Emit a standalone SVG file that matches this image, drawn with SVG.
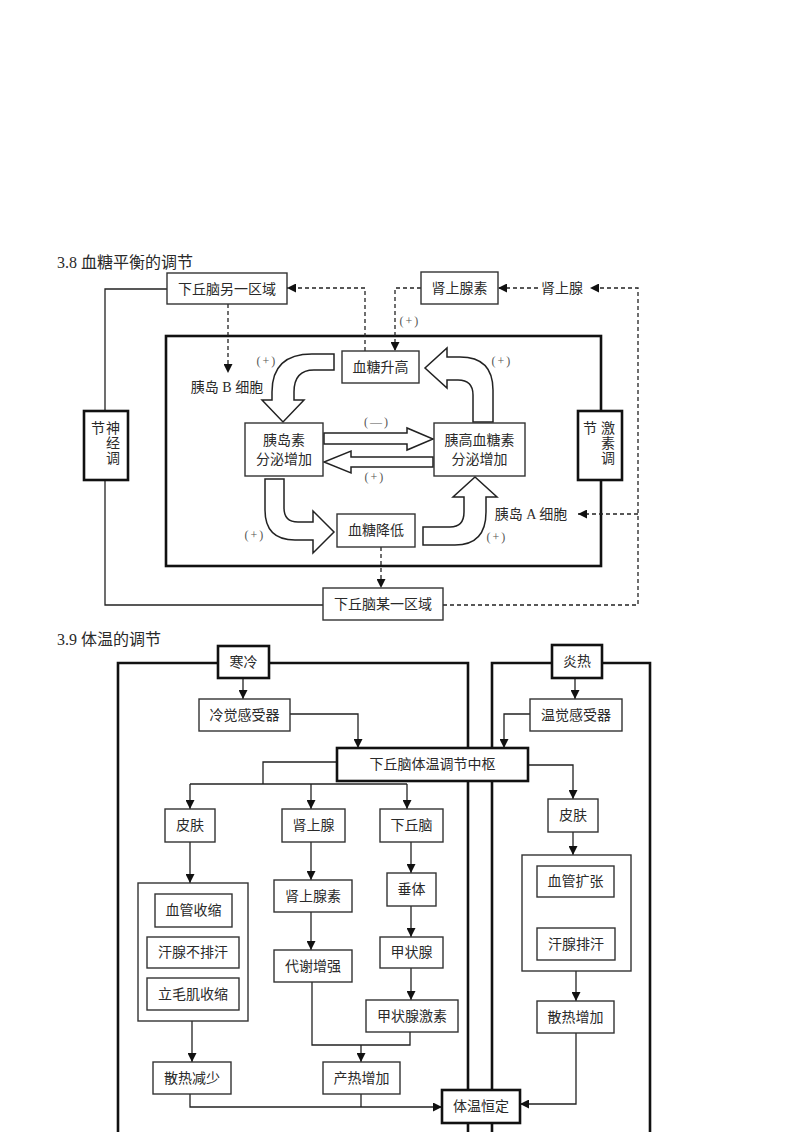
<svg xmlns="http://www.w3.org/2000/svg" width="800" height="1132" viewBox="0 0 800 1132">
<defs>
<marker id="arr" viewBox="0 0 10 10" refX="10" refY="5" markerWidth="9" markerHeight="9" markerUnits="userSpaceOnUse" orient="auto"><path d="M0,0 L10,5 L0,10 z" fill="#111"/></marker>
<style>
text{font-family:"Liberation Serif","Noto Sans CJK SC",serif;fill:#2a2a2a;font-size:14px}
.t{font-size:16px}
.c{text-anchor:middle}
.lb{font-size:12px;fill:#555;letter-spacing:2px}
.box{fill:#fff;stroke:#333;stroke-width:1.4}
.tb{fill:#fff;stroke:#111;stroke-width:2.6}
.frame{fill:none;stroke:#111;stroke-width:2.6}
.ln{fill:none;stroke:#222;stroke-width:1.3}
.da{fill:none;stroke:#222;stroke-width:1.3;stroke-dasharray:4,3}
.ba{fill:#fff;stroke:#222;stroke-width:1.5}
</style>
</defs>
<rect width="800" height="1132" fill="#fff"/>

<!-- 3.8 -->
<text x="57" y="268" class="t">3.8 血糖平衡的调节</text>
<rect id="frame38" x="166" y="336" width="435" height="230" class="frame"/>

<g id="connectors38">
<path class="ln" d="M167,289 H105 V411"/>
<path class="ln" d="M105,480 V605 H323"/>
<path class="da" d="M228,304 V373" marker-end="url(#arr)"/>
<path class="da" d="M365,351 V288 H287" marker-end="url(#arr)"/>
<path class="da" d="M421,288 H395 V351" marker-end="url(#arr)"/>
<path class="da" d="M538,288 H498" marker-end="url(#arr)"/>
<path class="da" d="M443,605 H638 V288 H590" marker-end="url(#arr)"/>
<path class="da" d="M638,514 H578" marker-end="url(#arr)"/>
<path class="da" d="M381,547 V588" marker-end="url(#arr)"/>
<path class="ba" d="M334,354 L312,354 Q272,354 272,392 L272,400 L262,400 L283,422 L304,400 L294,400 L294,392 Q294,370 314,370 L334,370 Z"/>
<path class="ba" d="M473,422 L473,395 Q473,380 458,380 L447,380 L447,388 L425,368 L447,348 L447,357 L460,357 Q493,357 493,390 L493,422 Z"/>
<path class="ba" d="M265,479 L284,479 L284,508 Q284,522 298,522 L313,522 L313,511 L334,532 L313,553 L313,540 L295,540 Q265,540 265,510 Z"/>
<path class="ba" d="M423,527 L450,527 Q464,527 464,512 L464,497 L453,497 L475,477 L497,497 L486,497 L486,512 Q486,545 455,545 L423,545 Z"/>
<path class="ba" d="M324,433 L407,433 L407,428 L433,439 L407,450 L407,444 L324,444 Z"/>
<path class="ba" d="M433,457 L351,457 L351,451 L324,462 L351,473 L351,467 L433,467 Z"/>
</g>

<g id="labels38">
<text x="267" y="365" class="lb c">(+)</text>
<text x="502" y="365" class="lb c">(+)</text>
<text x="255" y="539" class="lb c">(+)</text>
<text x="497" y="541" class="lb c">(+)</text>
<text x="410" y="325" class="lb c">(+)</text>
<text x="377" y="426" class="lb c">(—)</text>
<text x="375" y="481" class="lb c">(+)</text>
<text x="227" y="392" class="c">胰岛 B 细胞</text>
<text x="531" y="519" class="c">胰岛 A 细胞</text>
<text x="562" y="293" class="c">肾上腺</text>
</g>

<g id="n_hyp_other"><rect x="167" y="273" width="120" height="31" class="box"/><text x="227" y="294" class="c">下丘脑另一区域</text></g>
<g id="n_adrenaline"><rect x="421" y="272" width="77" height="32" class="box"/><text x="459.5" y="293" class="c">肾上腺素</text></g>
<g id="n_bg_up"><rect x="342" y="351" width="77" height="32" class="box"/><text x="380.5" y="372" class="c">血糖升高</text></g>
<g id="n_insulin"><rect x="245" y="423" width="78" height="53" class="box"/><text x="284" y="445" class="c">胰岛素</text><text x="284" y="464" class="c">分泌增加</text></g>
<g id="n_glucagon"><rect x="434" y="423" width="91" height="53" class="box"/><text x="479.5" y="445" class="c">胰高血糖素</text><text x="479.5" y="464" class="c">分泌增加</text></g>
<g id="n_bg_down"><rect x="337" y="514" width="78" height="33" class="box"/><text x="376" y="535" class="c">血糖降低</text></g>
<g id="n_hyp_some"><rect x="323" y="588" width="120" height="32" class="box"/><text x="383" y="609" class="c">下丘脑某一区域</text></g>
<g id="n_neural"><rect x="84" y="411" width="44" height="69" class="tb"/><text x="98" y="433" class="c">节</text><text x="113" y="433" class="c">神</text><text x="113" y="448" class="c">经</text><text x="113" y="463" class="c">调</text></g>
<g id="n_hormonal"><rect x="578" y="411" width="44" height="69" class="tb"/><text x="590" y="433" class="c">节</text><text x="608" y="433" class="c">激</text><text x="608" y="448" class="c">素</text><text x="608" y="463" class="c">调</text></g>

<!-- 3.9 -->
<text x="57" y="645" class="t">3.9 体温的调节</text>
<path class="frame" d="M118,1140 V663 H468 V1140"/>
<path class="frame" d="M492,1140 V663 H650 V1140"/>

<g id="connectors39">
<path class="ln" d="M243,678 V699" marker-end="url(#arr)"/>
<path class="ln" d="M575,678 V699" marker-end="url(#arr)"/>
<path class="ln" d="M290,714 H358 V748" marker-end="url(#arr)"/>
<path class="ln" d="M530,714 H504 V748" marker-end="url(#arr)"/>
<path class="ln" d="M528,765 H573 V799" marker-end="url(#arr)"/>
<path class="ln" d="M337,762 H263 V784"/>
<path class="ln" d="M190,784 H407"/>
<path class="ln" d="M190,784 V809" marker-end="url(#arr)"/>
<path class="ln" d="M311,784 V809" marker-end="url(#arr)"/>
<path class="ln" d="M407,784 V809" marker-end="url(#arr)"/>
<path class="ln" d="M190,842 V883" marker-end="url(#arr)"/>
<path class="ln" d="M311,842 V880" marker-end="url(#arr)"/>
<path class="ln" d="M311,912 V950" marker-end="url(#arr)"/>
<path class="ln" d="M411,842 V873" marker-end="url(#arr)"/>
<path class="ln" d="M411,906 V937" marker-end="url(#arr)"/>
<path class="ln" d="M411,968 V1000" marker-end="url(#arr)"/>
<path class="ln" d="M192,1021 V1062" marker-end="url(#arr)"/>
<path class="ln" d="M312,982 V1045 H410 V1032"/>
<path class="ln" d="M361,1045 V1062" marker-end="url(#arr)"/>
<path class="ln" d="M190,1094 V1107 H442" marker-end="url(#arr)"/>
<path class="ln" d="M361,1094 V1107"/>
<path class="ln" d="M573,832 V855" marker-end="url(#arr)"/>
<path class="ln" d="M576,971 V1001" marker-end="url(#arr)"/>
<path class="ln" d="M576,1033 V1104 H520" marker-end="url(#arr)"/>
</g>

<g id="n_cold"><rect x="218" y="646" width="51" height="32" class="tb"/><text x="243.5" y="667" class="c">寒冷</text></g>
<g id="n_hot"><rect x="552" y="645" width="50" height="33" class="tb"/><text x="577" y="666" class="c">炎热</text></g>
<g id="n_cold_rec"><rect x="199" y="699" width="91" height="32" class="box"/><text x="244.5" y="720" class="c">冷觉感受器</text></g>
<g id="n_warm_rec"><rect x="530" y="699" width="92" height="32" class="box"/><text x="576" y="720" class="c">温觉感受器</text></g>
<g id="n_center"><rect x="337" y="748" width="191" height="33" class="tb"/><text x="432.5" y="769" class="c">下丘脑体温调节中枢</text></g>
<g id="n_skin_l"><rect x="165" y="809" width="50" height="33" class="box"/><text x="190" y="830" class="c">皮肤</text></g>
<g id="n_adrenal"><rect x="282" y="809" width="63" height="33" class="box"/><text x="313.5" y="830" class="c">肾上腺</text></g>
<g id="n_hypothal"><rect x="380" y="809" width="63" height="33" class="box"/><text x="411.5" y="830" class="c">下丘脑</text></g>
<g id="n_skin_group_l"><rect x="138" y="883" width="110" height="138" class="box"/>
<rect x="155" y="894" width="77" height="33" class="box"/><text x="193.5" y="915" class="c">血管收缩</text>
<rect x="147" y="937" width="92" height="31" class="box"/><text x="193" y="957" class="c">汗腺不排汗</text>
<rect x="147" y="978" width="92" height="32" class="box"/><text x="193" y="999" class="c">立毛肌收缩</text></g>
<g id="n_adrenaline2"><rect x="274" y="880" width="78" height="32" class="box"/><text x="313" y="901" class="c">肾上腺素</text></g>
<g id="n_metab"><rect x="274" y="950" width="78" height="32" class="box"/><text x="313" y="971" class="c">代谢增强</text></g>
<g id="n_pituitary"><rect x="387" y="873" width="49" height="33" class="box"/><text x="411.5" y="894" class="c">垂体</text></g>
<g id="n_thyroid"><rect x="380" y="937" width="63" height="31" class="box"/><text x="411.5" y="957" class="c">甲状腺</text></g>
<g id="n_thyroxine"><rect x="366" y="1000" width="92" height="32" class="box"/><text x="412" y="1021" class="c">甲状腺激素</text></g>
<g id="n_heatloss_down"><rect x="153" y="1062" width="78" height="32" class="box"/><text x="192" y="1083" class="c">散热减少</text></g>
<g id="n_heatprod"><rect x="323" y="1062" width="77" height="32" class="box"/><text x="361.5" y="1083" class="c">产热增加</text></g>
<g id="n_const"><rect x="442" y="1090" width="78" height="33" class="tb"/><text x="481" y="1111" class="c">体温恒定</text></g>
<g id="n_skin_r"><rect x="548" y="799" width="50" height="33" class="box"/><text x="573" y="820" class="c">皮肤</text></g>
<g id="n_skin_group_r"><rect x="522" y="855" width="109" height="116" class="box"/>
<rect x="537" y="866" width="77" height="31" class="box"/><text x="575.5" y="886" class="c">血管扩张</text>
<rect x="537" y="928" width="78" height="32" class="box"/><text x="576" y="949" class="c">汗腺排汗</text></g>
<g id="n_heatloss_up"><rect x="537" y="1001" width="77" height="32" class="box"/><text x="575.5" y="1022" class="c">散热增加</text></g>
</svg>
